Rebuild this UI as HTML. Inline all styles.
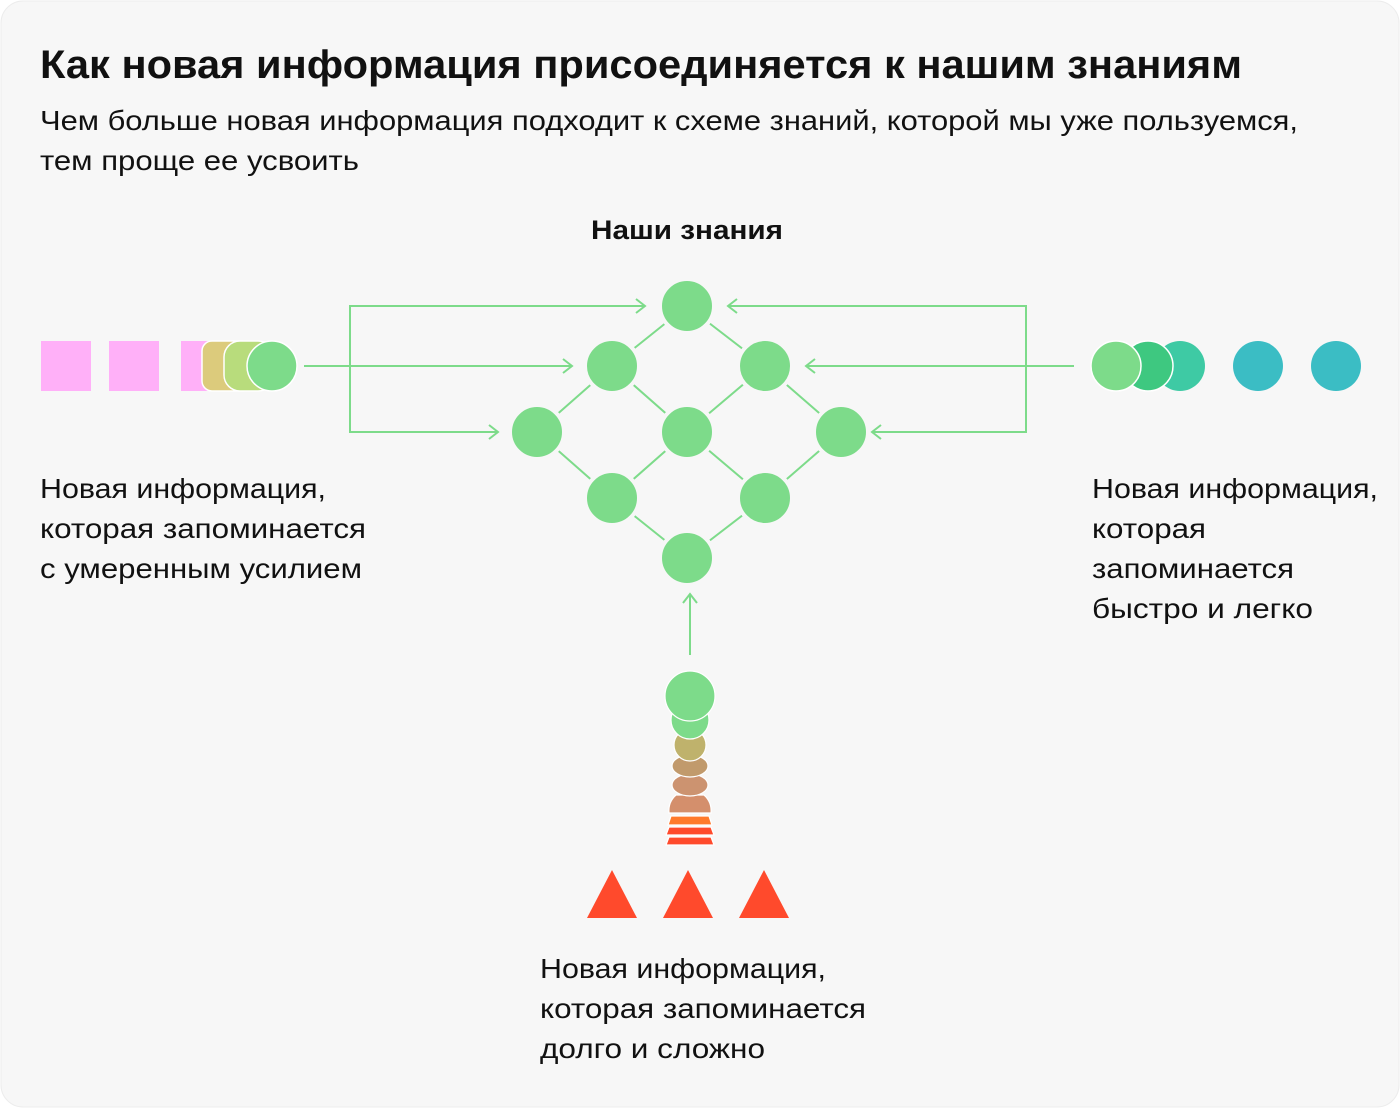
<!DOCTYPE html>
<html><head><meta charset="utf-8"><style>
html,body{margin:0;padding:0;background:#fff;}
svg{display:block;}
text{font-family:"Liberation Sans",sans-serif;fill:#111;}
</style></head><body>
<svg width="1400" height="1108" viewBox="0 0 1400 1108">
<rect x="1" y="1" width="1398" height="1106" rx="22" fill="#f7f7f7" stroke="#ececec"/>
<text x="40" y="78" font-size="40" font-weight="bold" textLength="1202" lengthAdjust="spacingAndGlyphs">Как новая информация присоединяется к нашим знаниям</text>
<text x="40" y="130" font-size="28" textLength="1258" lengthAdjust="spacingAndGlyphs">Чем больше новая информация подходит к схеме знаний, которой мы уже пользуемся,</text>
<text x="40" y="170" font-size="28" textLength="319" lengthAdjust="spacingAndGlyphs">тем проще ее усвоить</text>
<text x="591" y="239" font-size="27" font-weight="bold" textLength="192" lengthAdjust="spacingAndGlyphs">Наши знания</text>

<g stroke="#7ddb8a" stroke-width="2" fill="none">
<path d="M687 306L612 366M687 306L765 366M612 366L537 432M612 366L687 432M765 366L687 432M765 366L841 432M537 432L612 498M687 432L612 498M687 432L765 498M841 432L765 498M612 498L687 558M765 498L687 558"/>
<path d="M304 366H572M563 359L572 366L563 373"/>
<path d="M645 306H350V432H498M636 299L645 306L636 313M489 425L498 432L489 439"/>
<path d="M1074 366H806M815 359L806 366L815 373"/>
<path d="M728 306H1026V432H872M737 299L728 306L737 313M881 425L872 432L881 439"/>
<path d="M690 655V594M683 603L690 594L697 603"/>
</g>
<g fill="#7ddb8a" stroke="#f7f7f7" stroke-width="4">
<circle cx="687" cy="306" r="27"/><circle cx="612" cy="366" r="27"/><circle cx="765" cy="366" r="27"/>
<circle cx="537" cy="432" r="27"/><circle cx="687" cy="432" r="27"/><circle cx="841" cy="432" r="27"/>
<circle cx="612" cy="498" r="27"/><circle cx="765" cy="498" r="27"/><circle cx="687" cy="558" r="27"/>
</g>

<rect x="41" y="341" width="50" height="50" fill="#ffb0f8"/>
<rect x="109" y="341" width="50" height="50" fill="#ffb0f8"/>
<rect x="181" y="341" width="50" height="50" fill="#ffb0f8"/>
<rect x="202" y="341" width="50" height="50" rx="10" fill="#dccb7c" stroke="#fff" stroke-width="1.5"/>
<rect x="224" y="341" width="50" height="50" rx="16" fill="#b8dc7c" stroke="#fff" stroke-width="1.5"/>
<circle cx="272" cy="366" r="25" fill="#7ddb8a" stroke="#fff" stroke-width="1.5"/>

<circle cx="1180" cy="366" r="25" fill="#3ecaa4"/>
<circle cx="1148" cy="366" r="25" fill="#3ec880" stroke="#fff" stroke-width="1.5"/>
<circle cx="1116" cy="366" r="25" fill="#7ddb8a" stroke="#fff" stroke-width="1.5"/>
<circle cx="1258" cy="366" r="25" fill="#3bbdc4"/>
<circle cx="1336" cy="366" r="25" fill="#3bbdc4"/>

<g stroke="#fff" stroke-width="1.2">
<path d="M666 845L669 837H711L714 845Z" fill="#ff4a2c"/>
<path d="M666 835L669 827H711L714 835Z" fill="#ff4a2c"/>
<path d="M668 825L671 816H709L712 825Z" fill="#ff7a2c"/>
<path d="M669 813Q668 802 676 795H704Q712 802 711 813Z" fill="#d48f6c"/>
<ellipse cx="690" cy="785" rx="18" ry="11" fill="#cc9370"/>
<ellipse cx="690" cy="766" rx="18" ry="11" fill="#c19a6c"/>
<circle cx="690" cy="745" r="16" fill="#bfb26c"/>
<circle cx="690" cy="720" r="19" fill="#7ddb8a"/>
<circle cx="690" cy="696" r="25" fill="#7ddb8a"/>
</g>
<g fill="#ff4a2c">
<path d="M612 870L637 918H587Z"/><path d="M688 870L713 918H663Z"/><path d="M764 870L789 918H739Z"/>
</g>

<g font-size="28">
<text x="40" y="498" textLength="286" lengthAdjust="spacingAndGlyphs">Новая информация,</text>
<text x="40" y="538" textLength="326" lengthAdjust="spacingAndGlyphs">которая запоминается</text>
<text x="40" y="578" textLength="322" lengthAdjust="spacingAndGlyphs">с умеренным усилием</text>
<text x="1092" y="498" textLength="286" lengthAdjust="spacingAndGlyphs">Новая информация,</text>
<text x="1092" y="538" textLength="114" lengthAdjust="spacingAndGlyphs">которая</text>
<text x="1092" y="578" textLength="202" lengthAdjust="spacingAndGlyphs">запоминается</text>
<text x="1092" y="618" textLength="221" lengthAdjust="spacingAndGlyphs">быстро и легко</text>
<text x="540" y="978" textLength="286" lengthAdjust="spacingAndGlyphs">Новая информация,</text>
<text x="540" y="1018" textLength="326" lengthAdjust="spacingAndGlyphs">которая запоминается</text>
<text x="540" y="1058" textLength="225" lengthAdjust="spacingAndGlyphs">долго и сложно</text>
</g>
</svg>
</body></html>
